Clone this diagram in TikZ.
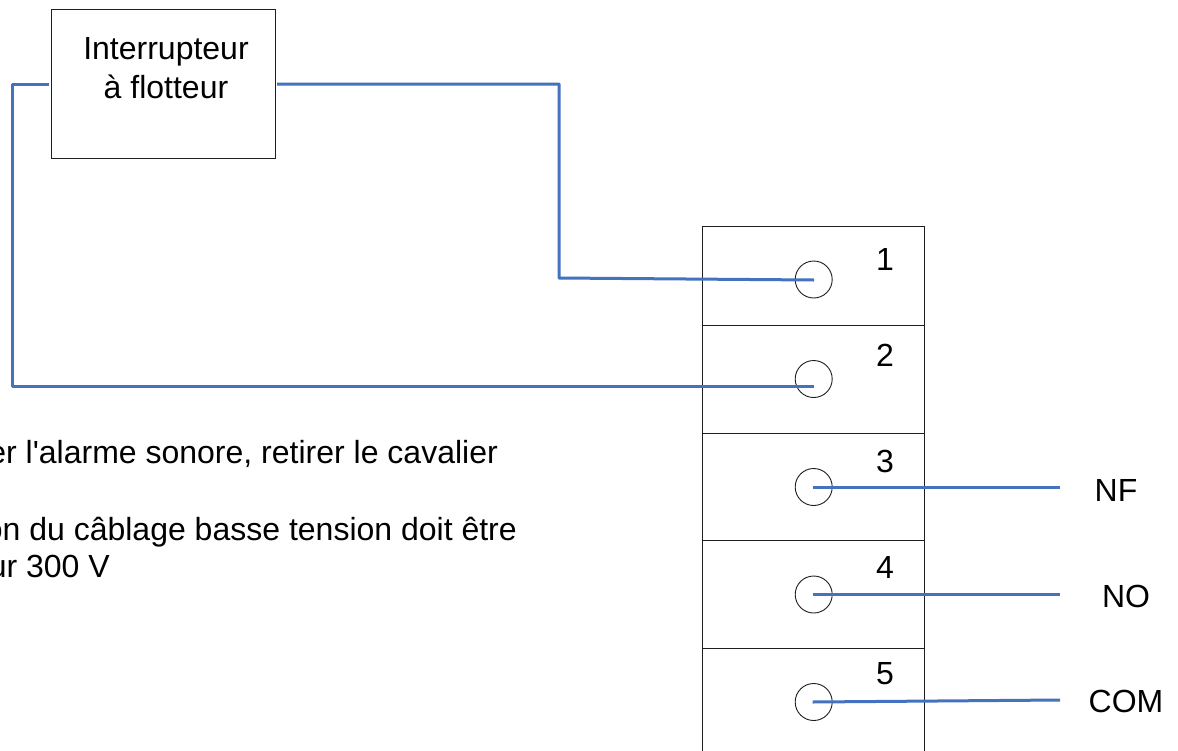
\documentclass[tikz,border=0pt]{standalone}
\usepackage{fontspec}
\setmainfont{Liberation Sans}
\newfontfamily\plainsans{Liberation Sans}
\definecolor{wire}{RGB}{68,114,190}
\definecolor{lineblk}{RGB}{30,30,30}
\tikzset{
  box/.style={draw=lineblk,line width=0.9pt,fill=white,inner sep=0pt},
  term/.style={circle,draw=lineblk,line width=0.9pt,minimum size=37pt,inner sep=0pt},
  wirepath/.style={draw=wire,line width=3pt,line join=round},
  lbl/.style={font=\fontsize{32}{38}\selectfont,inner sep=0pt,anchor=base,text=black},
  txt/.style={font=\plainsans\fontsize{32}{38}\selectfont,inner sep=0pt,anchor=base west,text=black}
}
\begin{document}
\begin{tikzpicture}[x=1pt,y=-1pt]
\useasboundingbox (0,0) rectangle (1178,750);
\clip (0,0) rectangle (1178,750);
\node[box,minimum width=224pt,minimum height=149pt] (sw) at (163,84) {};
\node[lbl] (swa) at (166,59) {Interrupteur};
\node[lbl] (swb) at (166,98) {à flotteur};
\node[box,minimum width=222pt,minimum height=100pt] (b1) at (813,276) {};
\node[box,minimum width=222pt,minimum height=108pt] (b2) at (813,379.5) {};
\node[box,minimum width=222pt,minimum height=108pt] (b3) at (813,487) {};
\node[box,minimum width=222pt,minimum height=108pt] (b4) at (813,594.5) {};
\node[box,minimum width=222pt,minimum height=108pt] (b5) at (813,702) {};
\node[term] (t1) at (813.7,279.5) {};
\node[term] (t2) at (813.7,379) {};
\node[term] (t3) at (813.7,487) {};
\node[term] (t4) at (813.7,594.5) {};
\node[term] (t5) at (813.7,702) {};
\node[lbl] (n1) at (885,270) {1};
\node[lbl] (n2) at (885,366) {2};
\node[lbl] (n3) at (885,472) {3};
\node[lbl] (n4) at (885,578) {4};
\node[lbl] (n5) at (885,684) {5};
\node[lbl] (nf) at (1116,501) {NF};
\node[lbl] (no) at (1126,607) {NO};
\node[lbl] (com) at (1126,712) {COM};
\node[txt,anchor=base east] (l1) at (498,463) {er l'alarme sonore, retirer le cavalier};
\node[txt,anchor=base east] (l2) at (517,540) {on du câblage basse tension doit être};
\node[txt,anchor=base east] (l3) at (110,577) {ur 300 V};
\coordinate (c1) at (559,84);
\coordinate (c2) at (559,278);
\coordinate (c3) at (12,84);
\coordinate (c4) at (12,386.5);
\coordinate (e1) at (814,280);
\coordinate (e2) at (814,386.5);
\coordinate (s3) at (812.5,487);
\coordinate (s4) at (812.5,594.5);
\coordinate (s5) at (812.5,702);
\coordinate (e3) at (1060,487);
\coordinate (e4) at (1060,594.5);
\coordinate (e5) at (1060,700);
\draw[wirepath] (277,84) -- (c1) -- (c2) -- (e1);
\draw[wirepath] (49,84) -- (c3) -- (c4) -- (e2);
\draw[wirepath] (s3) -- (e3);
\draw[wirepath] (s4) -- (e4);
\draw[wirepath] (s5) -- (e5);
\end{tikzpicture}
\end{document}
